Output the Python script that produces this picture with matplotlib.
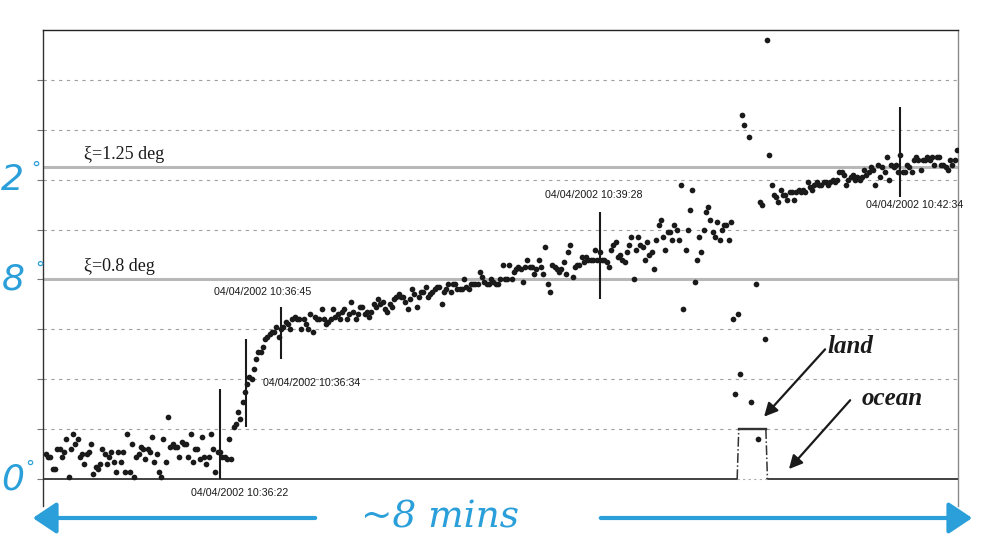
import numpy as np
import matplotlib.pyplot as plt
from matplotlib import transforms
from matplotlib.patches import FancyArrowPatch

# pointing error per sample (deg), split by phase of the pass
pre_turn = [0.10, 0.09, 0.09, 0.04, 0.04, 0.12, 0.12, 0.09, 0.11, 0.16,
            0.01, 0.12, 0.18, 0.14, 0.16, 0.09, 0.10, 0.06, 0.10, 0.11,
            0.14, 0.02, 0.05, 0.04, 0.06, 0.12, 0.10, 0.06, 0.09, 0.11,
            0.07, 0.03, 0.11, 0.07, 0.11, 0.03, 0.18, 0.03, 0.14, 0.01,
            0.09, 0.10, 0.13, 0.12, 0.08, 0.12, 0.11, 0.17, 0.07, 0.10,
            0.03, 0.01, 0.16, 0.07, 0.25, 0.13, 0.14, 0.13, 0.13, 0.09,
            0.15, 0.14, 0.14, 0.09, 0.18, 0.07, 0.12, 0.12, 0.08, 0.17,
            0.09, 0.06, 0.09, 0.18, 0.12, 0.03, 0.11, 0.11]
turn = [0.09, 0.09, 0.08, 0.16, 0.08, 0.21, 0.22, 0.27, 0.24, 0.31,
        0.35, 0.38, 0.41, 0.40, 0.44, 0.48, 0.51, 0.51, 0.53, 0.56,
        0.57, 0.58, 0.59, 0.59, 0.61, 0.57, 0.60, 0.61, 0.63, 0.62,
        0.60, 0.64, 0.65, 0.64]
climb_a = [0.64, 0.60, 0.64, 0.62, 0.60, 0.66, 0.59, 0.65, 0.64, 0.64,
           0.68, 0.64, 0.62, 0.63, 0.64, 0.68, 0.65, 0.66, 0.64, 0.67,
           0.68, 0.64, 0.66, 0.71, 0.67, 0.64, 0.66, 0.69, 0.69, 0.66,
           0.67, 0.65, 0.67, 0.70, 0.69, 0.72, 0.70, 0.71, 0.68, 0.67,
           0.70, 0.69, 0.72, 0.73]
climb_b = [0.74, 0.73, 0.73, 0.71, 0.68, 0.72, 0.76, 0.74, 0.69, 0.73,
           0.75, 0.75, 0.77, 0.73, 0.74, 0.75, 0.76, 0.77, 0.77, 0.70,
           0.75, 0.76, 0.78, 0.75, 0.78, 0.78, 0.76, 0.76, 0.76, 0.80,
           0.77, 0.76, 0.78, 0.78, 0.78, 0.78, 0.83, 0.81, 0.79, 0.78,
           0.78, 0.80, 0.79, 0.78, 0.78, 0.80, 0.86, 0.80, 0.80, 0.86,
           0.80, 0.83, 0.84, 0.85, 0.84, 0.79, 0.85, 0.88, 0.85, 0.85,
           0.82, 0.84, 0.88, 0.85, 0.82, 0.93, 0.78, 0.75, 0.86, 0.85,
           0.84, 0.83, 0.84, 0.87, 0.82, 0.91, 0.94, 0.81, 0.85, 0.86,
           0.86, 0.89, 0.87, 0.89]
climb_c = [0.88, 0.88, 0.88, 0.92, 0.88, 0.91, 0.88, 0.88, 0.87, 0.85,
           0.92, 0.94, 0.95, 0.89, 0.90, 0.88, 0.87, 0.91, 0.94, 0.97,
           0.80, 0.92, 0.97, 0.94, 0.93, 0.88, 0.95, 0.90, 0.91, 0.84,
           0.96, 1.02, 1.04, 0.97, 0.92, 0.99, 0.99, 0.96, 1.02, 1.00,
           0.96, 1.18, 0.68, 0.92, 1.00, 1.08, 1.16, 0.79, 0.88, 0.97,
           0.91, 1.00, 1.07, 1.09, 1.04, 0.99, 0.97, 1.03, 0.96, 1.00,
           1.02, 1.02, 0.96, 1.03]
# over land some fixes drop out (nan)
land_pass = [0.64, 0.34, 0.66, 0.42, 1.46, 1.42, np.nan, 1.37, 0.31, np.nan,
             0.78, 0.16]
recovery = [1.11, 1.10, 0.56, 1.76, 1.30]
settled = [1.18, 1.14, 1.13, 1.11, 1.16, 1.14, 1.14, 1.12, 1.15, 1.15,
           1.12, 1.15, 1.16, 1.15, 1.16, 1.15, 1.19, 1.17, 1.16, 1.18,
           1.19, 1.18, 1.18, 1.19, 1.19, 1.18, 1.19, 1.20, 1.19, 1.20,
           1.23, 1.23, 1.22, 1.18, 1.20, 1.21, 1.22, 1.20, 1.21, 1.20,
           1.21, 1.24, 1.22, 1.23, 1.25, 1.24, 1.18, 1.26, 1.21, 1.25,
           1.23, 1.29, 1.20, 1.26, 1.25, 1.26, 1.23, 1.30, 1.23, 1.23,
           1.26, 1.25, 1.23, 1.28, 1.29, 1.28, 1.24, 1.28, 1.28, 1.29,
           1.28, 1.29, 1.26, 1.29, 1.29, 1.26, 1.26, 1.25, 1.24, 1.28,
           1.26, 1.28, 1.32]

angle = np.concatenate([pre_turn, turn, climb_a, climb_b, climb_c,
                        land_pass, recovery, settled])
sample = np.arange(len(angle))

# threshold lines
xi_levels = [1.25, 0.8]
xi_labels = ["ξ=1.25 deg", "ξ=0.8 deg"]

# time stamps on the trace: sample, bar bottom, bar top
event_sample = [77, 88.5, 104, 245, 378]
event_low = [0.0, 0.21, 0.48, 0.72, 1.13]
event_high = [0.36, 0.56, 0.69, 1.07, 1.49]
event_label = ["04/04/2002 10:36:22", "04/04/2002 10:36:34",
               "04/04/2002 10:36:45", "04/04/2002 10:39:28",
               "04/04/2002 10:42:34"]

# land flag
land_first, land_last = 307, 318
land_level = 0.2

# degree marks in the left margin
margin_deg = [1.2, 0.8, 0]
margin_text = ["2", "8", "0"]

BLUE = "#2b9fd9"
INK = "#1a1a1a"

fig = plt.figure(figsize=(9.81, 5.36), dpi=100)
ax = fig.add_axes([43 / 981, 30 / 536, 915 / 981, 476 / 536])
x0, x1 = -1.3, 403.5
ax.set_xlim(x0, x1)
ax.set_ylim(-0.108, 1.8)

# dotted grid
for g in np.arange(0.2, 1.7, 0.2):
    ax.axhline(g, color="#a0a0a0", lw=0.8, ls=(0, (3, 4)), zorder=1)
for lev, lab in zip(xi_levels, xi_labels):
    ax.axhline(lev, color="#b8b8b8", lw=2.2, zorder=1)
    ax.text(17, lev + 0.018, lab, family="Liberation Serif", fontsize=13,
            ha="left", va="bottom", color=INK)

ax.plot(sample, angle, "o", color=INK, ms=4.1, mec="none", zorder=4)

# event bars with time stamps
ax.vlines(event_sample, event_low, event_high, color=INK, lw=1.5, zorder=5)
label_anchor = ["low", "mid", "high", "high", "low"]
label_offset = [(20, -14), (17, 0), (-18, 15), (-6, 17), (-34, -8)]
label_ha = ["center", "left", "center", "center", "left"]
for xs, lo, hi, txt, anc, off, ha in zip(event_sample, event_low, event_high,
                                         event_label, label_anchor,
                                         label_offset, label_ha):
    ya = {"low": lo, "mid": (lo + hi) / 2, "high": hi}[anc]
    ax.annotate(txt, xy=(xs, ya), xytext=off, textcoords="offset pixels",
                ha=ha, va="center", fontsize=7.7, family="Liberation Sans",
                color=INK, annotation_clip=False)

# land / ocean flag
left_foot, right_foot = land_first - 1.2, land_last + 1.2
ax.plot([x0, left_foot], [0, 0], color="#333333", lw=1.3, zorder=3)
ax.plot([right_foot, x1], [0, 0], color="#333333", lw=1.3, zorder=3)
ax.plot([left_foot, right_foot], [0, 0], color="#aaaaaa", lw=0.8,
        ls=(0, (2, 3)), zorder=3)
ax.plot([left_foot, land_first - 0.5], [0, land_level], color="#333333",
        lw=1.1, ls="-.", zorder=3)
ax.plot([land_last + 0.5, right_foot], [land_level, 0], color="#333333",
        lw=1.1, ls="-.", zorder=3)
ax.plot([land_first - 0.5, land_last + 0.5], [land_level, land_level],
        color="#333333", lw=1.7, zorder=3)

ax.annotate("", xy=(land_last - 0.3, land_level + 0.05), xytext=(344.7, 0.52),
            arrowprops=dict(arrowstyle="-|>", color=INK, lw=1.6,
                            mutation_scale=20, shrinkA=0, shrinkB=0))
ax.annotate("", xy=(right_foot + 9.5, 0.04), xytext=(355.8, 0.316),
            arrowprops=dict(arrowstyle="-|>", color=INK, lw=1.6,
                            mutation_scale=20, shrinkA=0, shrinkB=0))
ax.text(345.6, 0.504, "land", family="Liberation Serif", fontsize=18,
        weight="bold", style="italic", ha="left", va="baseline", color=INK)
ax.text(361, 0.296, "ocean", family="Liberation Serif", fontsize=18,
        weight="bold", style="italic", ha="left", va="baseline", color=INK)

# frame
for side in ["top", "left", "right", "bottom"]:
    ax.spines[side].set_linewidth(1.0)
ax.spines["top"].set_color("#222222")
ax.spines["left"].set_color("#333333")
ax.spines["right"].set_color("#8a8a8a")
ax.spines["bottom"].set_visible(False)
ax.set_xticks([])
ax.set_yticks(np.arange(0, 1.7, 0.2))
ax.set_yticklabels([])
ax.tick_params(axis="y", direction="out", length=4, color="#777777")

# blue margin marks and span arrow
trans = transforms.blended_transform_factory(fig.transFigure, ax.transData)
num_left = [1, 2, 1]
deg_x = [36, 40, 30]
for d, t, xl, xd in zip(margin_deg, margin_text, num_left, deg_x):
    fig.text(xl / 981, d, t, transform=trans, ha="left", va="center",
             fontsize=26, color=BLUE, family="DejaVu Sans", style="italic")
    fig.text(xd / 981, d + 0.045, "°", transform=trans, ha="center",
             va="center", fontsize=13, color=BLUE, family="DejaVu Sans")

ya = 1 - 518 / 536
for xa, xb in [(318, 30), (598, 975)]:
    arr = FancyArrowPatch((xa / 981, ya), (xb / 981, ya),
                          transform=fig.transFigure,
                          arrowstyle="-|>,head_length=0.6,head_width=0.4",
                          mutation_scale=24, lw=3.0, color=BLUE)
    fig.add_artist(arr)
fig.text(440 / 981, ya, "~8 mins", ha="center", va="center", fontsize=27,
         color=BLUE, family="DejaVu Serif", style="italic")

fig.savefig("out.png", dpi=100)
